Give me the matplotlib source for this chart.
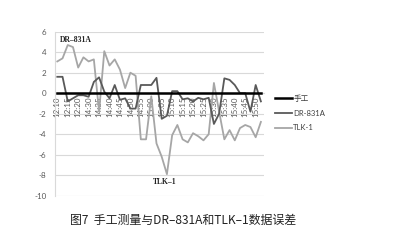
import matplotlib
matplotlib.use("Agg")
import matplotlib.pyplot as plt
import numpy as np

plt.rcParams['font.family'] = ['Lato', 'Noto Sans CJK SC', 'DejaVu Sans']
plt.rcParams['axes.unicode_minus'] = False

tick_labels = ["12:10", "12:15", "12:20", "14:30", "14:35", "14:40", "14:45", "14:50",
               "14:55", "15:00", "15:05", "15:10", "15:15", "15:20", "15:25", "15:30",
               "15:35", "15:40", "15:45", "15:50"]

manual = [0.0] * 40

dr831a = [1.6, 1.6, -0.8, -0.5, -0.2, -0.2, -0.35, 1.1, 1.55, 0.15,
          -0.5, 0.8, -0.65, -0.5, -1.5, -1.5, 0.8, 0.8, 0.8, 1.5,
          -2.5, -2.2, 0.2, 0.2, -0.6, -0.5, -0.8, -0.45, -0.6, -0.45,
          -3.0, -2.0, 1.45, 1.3, 0.8, 0.0, 0.0, -1.8, 0.8, -0.8]

tlk1 = [3.1, 3.4, 4.7, 4.5, 2.5, 3.5, 3.1, 3.3, -1.8, 4.1,
        2.7, 3.3, 2.3, 0.5, 2.0, 1.7, -4.5, -4.5, -0.3, -4.9,
        -6.2, -7.9, -4.1, -3.1, -4.5, -4.8, -3.9, -4.2, -4.6, -4.0,
        1.0, -1.8, -4.5, -3.6, -4.6, -3.4, -3.1, -3.3, -4.3, -2.8]

W, H = 407, 248
fig = plt.figure(figsize=(W / 100, H / 100), dpi=100)
ax = fig.add_axes([54.7 / W, 1 - 195.7 / H, (263.5 - 54.7) / W, (195.7 - 31.7) / H])

for s in ['top', 'right']:
    ax.spines[s].set_visible(False)
ax.spines['bottom'].set_position(('data', 0))
ax.spines['bottom'].set_color('#d9d9d9')
ax.spines['left'].set_color('#d9d9d9')
ax.spines['left'].set_linewidth(0.8)

x = np.arange(len(manual))
ax.plot(x, tlk1, color='#a6a6a6', lw=1.3, label='TLK-1', zorder=3)
ax.plot(x, dr831a, color='#595959', lw=1.3, label='DR-831A', zorder=4)
ax.plot(x, manual, color='#000000', lw=1.8, label='手工', zorder=5)

ax.set_xlim(-0.5, len(manual) - 0.5)
ax.set_ylim(-10, 6)
ax.set_yticks(np.arange(-10, 7, 2))
ax.grid(axis='y', color='#d9d9d9', lw=0.8, zorder=0)
ax.set_axisbelow(True)

ax.set_xticks(x[::2])
ax.set_xticklabels(tick_labels, rotation=90, fontsize=5.8, color='#595959')
ax.tick_params(axis='x', length=0, pad=2.5)
ax.tick_params(axis='y', length=0, pad=6, labelsize=5.8, labelcolor='#595959')

ax.text(60 / W, 1 - 40 / H, 'DR–831A', transform=fig.transFigure, fontsize=5.5,
        fontweight='bold', family=['Liberation Serif', 'DejaVu Serif'],
        va='center', ha='left', color='#222222')
ax.text(165 / W, 1 - 182 / H, 'TLK–1', transform=fig.transFigure, fontsize=5.5,
        fontweight='bold', family=['Liberation Serif', 'DejaVu Serif'],
        va='center', ha='center', color='#222222')

handles, labels = ax.get_legend_handles_labels()
order = [2, 1, 0]
leg = fig.legend([handles[i] for i in order], [labels[i] for i in order],
                 loc='center left', bbox_to_anchor=(272 / W, 1 - 113 / H),
                 frameon=False, fontsize=5.5, handlelength=2.2, handletextpad=0.2,
                 labelspacing=1.0, borderaxespad=0)
for t in leg.get_texts():
    t.set_color('#404040')

fig.text(183 / W, 1 - 220 / H, '图7  手工测量与DR–831A和TLK–1数据误差',
         family=['Noto Sans CJK SC', 'DejaVu Sans'], fontsize=8.6, ha='center',
         va='center', color='#222222')

fig.savefig('out.png', dpi=100)
